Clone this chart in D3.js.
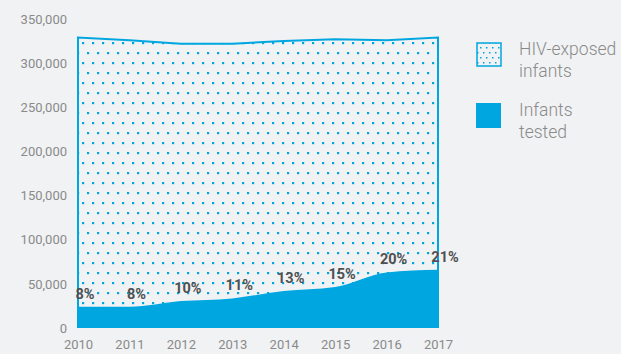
<!DOCTYPE html>
<html>
<head>
<meta charset="utf-8">
<script src="https://cdn.jsdelivr.net/npm/d3@7"></script>
<style>
  body { margin: 0; background: #f1f2f4; }
  svg { display: block; font-family: Roboto, sans-serif; }
</style>
</head>
<body>
<svg id="chart" width="621" height="354"></svg>
<script>
// data
var years = [2010, 2011, 2012, 2013, 2014, 2015, 2016, 2017];
var exposed = [329000, 326000, 322000, 322000, 325000, 327000, 326000, 329000];
var tested = [24000, 24000, 30500, 33500, 42000, 46500, 63000, 66000];
var pctLabels = ["8%", "8%", "10%", "11%", "13%", "15%", "20%", "21%"];
var yTicks = [0, 50000, 100000, 150000, 200000, 250000, 300000, 350000];
var legendItems = [
  { lines: ["HIV-exposed", "infants"], kind: "dots" },
  { lines: ["Infants", "tested"], kind: "solid" }
];

var blue = "#00a6e0";
var svg = d3.select("#chart");

var x = d3.scaleLinear().domain([2010, 2017]).range([78, 438]);
var y = d3.scaleLinear().domain([0, 350000]).range([328, 19]);

// dot pattern
var defs = svg.append("defs");
var pat = defs.append("pattern")
  .attr("id", "dots")
  .attr("patternUnits", "userSpaceOnUse")
  .attr("width", 10).attr("height", 20)
  .attr("x", 2).attr("y", 2);
pat.append("rect").attr("x", 0).attr("y", 0).attr("width", 2.2).attr("height", 2.2).attr("fill", blue);
pat.append("rect").attr("x", 5).attr("y", 10).attr("width", 2.2).attr("height", 2.2).attr("fill", blue);

var pat2 = defs.append("pattern")
  .attr("id", "dotsSmall")
  .attr("patternUnits", "userSpaceOnUse")
  .attr("width", 6).attr("height", 10)
  .attr("x", 478).attr("y", 45);
pat2.append("rect").attr("x", 0).attr("y", 0).attr("width", 1.5).attr("height", 1.5).attr("fill", blue);
pat2.append("rect").attr("x", 3).attr("y", 5).attr("width", 1.5).attr("height", 1.5).attr("fill", blue);

var rows = years.map(function(yr, i) {
  return { year: yr, exposed: exposed[i], tested: tested[i], label: pctLabels[i] };
});

// exposed area
var areaExp = d3.area()
  .x(function(d) { return x(d.year); })
  .y0(y(0))
  .y1(function(d) { return y(d.exposed); });

svg.append("path")
  .datum(rows)
  .attr("d", areaExp)
  .attr("fill", "url(#dots)");

var outline = d3.line()
  .x(function(d) { return d[0]; })
  .y(function(d) { return d[1]; });

var outlinePts = [[x(2010), y(0)]].concat(rows.map(function(d) { return [x(d.year), y(d.exposed)]; }))
  .concat([[x(2017), y(0)]]);

svg.append("path")
  .attr("d", outline(outlinePts))
  .attr("fill", "none")
  .attr("stroke", blue)
  .attr("stroke-width", 2);

// tested area
var areaTest = d3.area()
  .x(function(d) { return x(d.year); })
  .y0(y(0))
  .y1(function(d) { return y(d.tested); })
  .curve(d3.curveMonotoneX);

svg.append("path")
  .datum(rows)
  .attr("d", areaTest)
  .attr("fill", blue);

// percentage labels
svg.selectAll(".pct")
  .data(rows)
  .enter().append("text")
  .attr("x", function(d) { return x(d.year) + 7; })
  .attr("y", function(d) { return y(d.tested) - 8; })
  .attr("text-anchor", "middle")
  .attr("font-size", 14.5)
  .attr("font-weight", "bold")
  .attr("fill", "#505050")
  .text(function(d) { return d.label; });

// y axis
var yAxis = d3.axisLeft(y)
  .tickValues(yTicks)
  .tickFormat(d3.format(","))
  .tickSize(0)
  .tickPadding(11);

var gy = svg.append("g").attr("transform", "translate(78,0)").call(yAxis);
gy.select(".domain").remove();
gy.selectAll("text").attr("fill", "#8a8a8a").attr("font-size", 13).attr("font-family", "Roboto, sans-serif");

// x axis
var xAxis = d3.axisBottom(x)
  .tickValues(years)
  .tickFormat(d3.format("d"))
  .tickSize(0)
  .tickPadding(6);

var gx = svg.append("g").attr("transform", "translate(0,334)").call(xAxis);
gx.select(".domain").remove();
gx.selectAll("text").attr("fill", "#8a8a8a").attr("font-size", 13).attr("font-family", "Roboto, sans-serif");

// legend
var lg = svg.selectAll(".legend")
  .data(legendItems)
  .enter().append("g")
  .attr("transform", function(d, i) { return "translate(476," + (42 + i * 61) + ")"; });

lg.append("rect")
  .attr("x", function(d) { return d.kind === "dots" ? 1 : 0; })
  .attr("y", function(d) { return d.kind === "dots" ? 1 : 0; })
  .attr("width", function(d) { return d.kind === "dots" ? 24 : 25; })
  .attr("height", function(d) { return d.kind === "dots" ? 23 : 25; })
  .attr("fill", function(d) { return d.kind === "dots" ? "url(#dotsSmall)" : blue; })
  .attr("stroke", function(d) { return d.kind === "dots" ? blue : "none"; })
  .attr("stroke-width", 1.5);

lg.each(function(d) {
  var g = d3.select(this);
  d.lines.forEach(function(t, j) {
    g.append("text")
      .attr("x", 43)
      .attr("y", 13 + j * 22)
      .attr("font-size", 17.5)
      .attr("font-weight", 300)
      .attr("fill", "#8a8a8a")
      .text(t);
  });
});
</script>
</body>
</html>
